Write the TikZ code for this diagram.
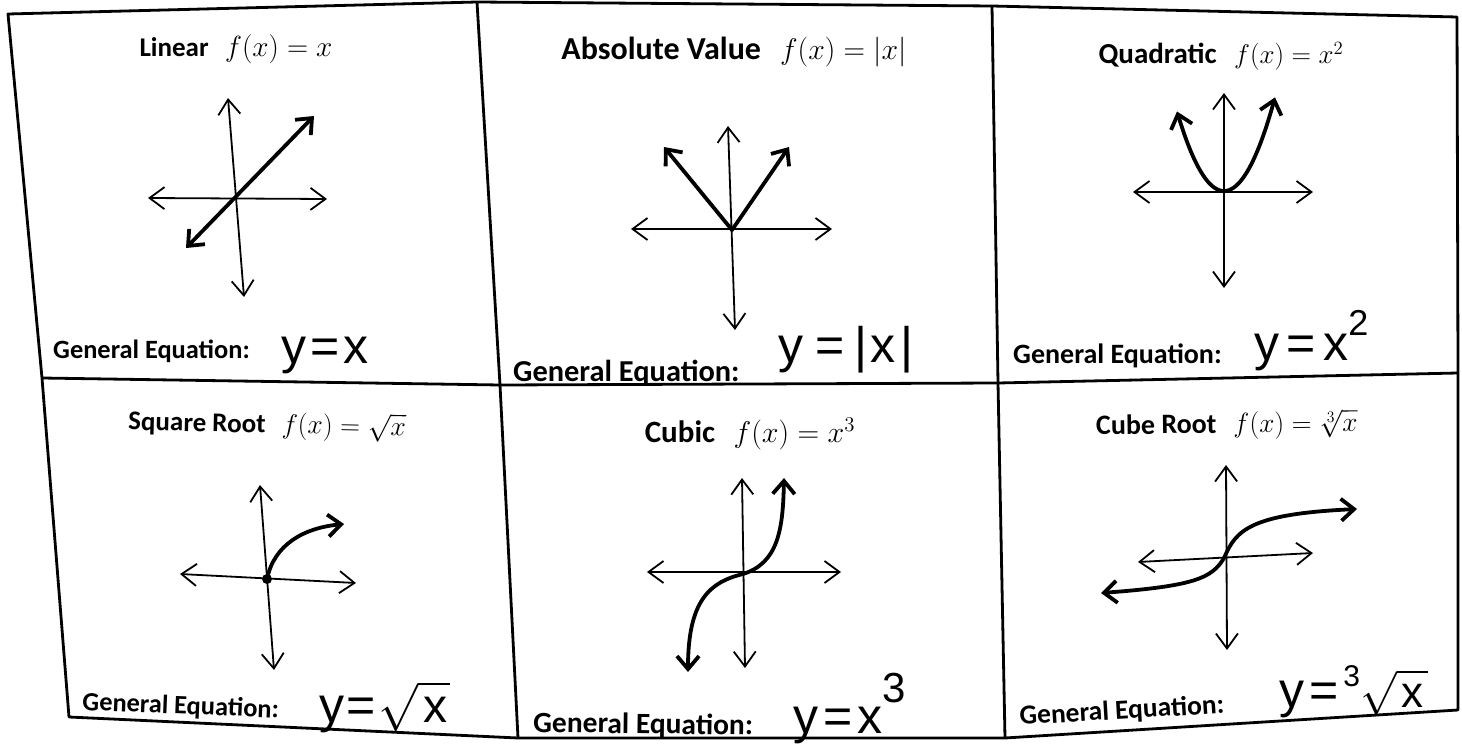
\documentclass[tikz,border=0pt]{standalone}
\usepackage{amsmath}
\usepackage{fontspec}
\setmainfont{Carlito}
\newfontfamily\hand{Liberation Sans}
\usetikzlibrary{arrows.meta}
\newcommand{\fs}[1]{\fontsize{#1}{#1}\selectfont}
% math drawn at 20.74pt and scaled to the wanted size
\newcommand{\bm}[2]{\scalebox{\fpeval{#1/20.74}}{\fs{20.74}$#2$}}
\begin{document}
\begin{tikzpicture}[x=1pt,y=-1pt,
  >={Straight Barb[length=15pt,width=22pt]},
  border/.style={line width=2.8pt,line join=round},
  axis/.style={line width=1.8pt,<->},
  curve/.style={line width=3.8pt,line cap=round,line join=round},
  bothtips/.style={arrows={Straight Barb[length=13pt,width=22pt]-Straight Barb[length=13pt,width=22pt]}},
  endtip/.style={arrows={-Straight Barb[length=13pt,width=22pt]}},
  title/.style={anchor=base,inner sep=0pt,font=\bfseries},
  geq/.style={anchor=base west,inner sep=0pt,font=\bfseries},
  handeq/.style={anchor=base west,inner sep=0pt,font=\hand\fontsize{50}{54}\selectfont},
  dotmark/.style={fill=black,circle,inner sep=0pt,minimum size=10pt}]
\useasboundingbox (0,0) rectangle (1462,754);
\fill[white] (0,0) rectangle (1462,754);
% ---------- borders ----------
\coordinate (t0) at (8,14);
\coordinate (t1) at (477,2);
\coordinate (t2) at (992,6);
\coordinate (t3) at (1457,17);
\coordinate (m0) at (42,378);
\coordinate (m1) at (500,385);
\coordinate (m2) at (998,383);
\coordinate (m3) at (1458,373);
\coordinate (b0) at (69,717);
\coordinate (b1) at (518,738);
\coordinate (b2) at (1005,738);
\coordinate (b3) at (1458,710);
\draw[border] (t0) -- (t1) -- (t2) -- (t3) -- (m3) -- (b3) -- (b2) -- (b1) -- (b0) -- (m0) -- cycle;
\draw[border] (m0) -- (m1) -- (m2) -- (m3);
\draw[border] (t1) -- (m1) -- (b1);
\draw[border] (t2) -- (m2) -- (b2);
% ---------- cell 1: linear ----------
\node[title] (ti1) at (236,57) {\fs{27}Linear\hspace{0.6em}\bm{29.2}{f(x)=x}};
\coordinate (a1t) at (228,98);  \coordinate (a1b) at (244,297);
\coordinate (a1l) at (148,198); \coordinate (a1r) at (327,199);
\draw[axis] (a1t) -- (a1b);
\draw[axis] (a1l) -- (a1r);
\coordinate (c1a) at (186,248); \coordinate (c1b) at (314,116);
\draw[curve,bothtips] (c1a) -- (c1b);
\node[geq] (g1) at (53,358) {\fs{26.4}General Equation:};
\node[handeq] (h1) at (281,363) {y\hspace{0.08em}=\hspace{0.08em}x};
% ---------- cell 2: absolute value ----------
\node[title] (ti2) at (734,60) {\fs{32}Absolute Value\hspace{0.6em}\bm{29.8}{f(x)=\left|x\right|}};
\coordinate (a2t) at (728,126); \coordinate (a2b) at (735,330);
\coordinate (a2l) at (631,229); \coordinate (a2r) at (832,229);
\draw[axis] (a2t) -- (a2b);
\draw[axis] (a2l) -- (a2r);
\coordinate (o2) at (732,230);
\coordinate (c2a) at (664,147); \coordinate (c2b) at (789,147);
\draw[curve,bothtips] (c2a) -- (o2) -- (c2b);
\node[geq] (g2) at (513,381) {\fs{30.4}General Equation:};
\node[handeq] (h2) at (778,362) {y\hspace{0.25em}=\hspace{0.2em}|\hspace{0.05em}x\hspace{0.1em}|};
% ---------- cell 3: quadratic ----------
\node[title] (ti3) at (1221,64) {\fs{29}Quadratic\hspace{0.6em}\bm{27}{f(x)=x^2}};
\coordinate (a3t) at (1224,93);  \coordinate (a3b) at (1224,288);
\coordinate (a3l) at (1133,192); \coordinate (a3r) at (1313,192);
\draw[axis] (a3t) -- (a3b);
\draw[axis] (a3l) -- (a3r);
\draw[curve,bothtips] plot[domain=-47:51,samples=50,smooth] ({1224+\x},{191-0.036*\x*\x});
\node[geq] (g3) at (1013,363) {\fs{28}General Equation:};
\node[handeq] (h3) at (1254,360) {y\hspace{0.15em}=\hspace{0.15em}x\raisebox{0.5em}{\fs{36}2}};
% ---------- cell 4: square root ----------
\node[title,rotate=-1.3] (ti4) at (267,433) {\fs{27}Square Root\hspace{0.6em}\bm{27.5}{f(x)=\sqrt{x}}};
\coordinate (a4t) at (260,485); \coordinate (a4b) at (274,670);
\coordinate (a4l) at (180,574); \coordinate (a4r) at (356,583);
\draw[axis] (a4t) -- (a4b);
\draw[axis] (a4l) -- (a4r);
\coordinate (o4) at (267,579);
\coordinate (c4e) at (344,524);
\draw[curve,endtip] (o4) .. controls (274,545) and (303,528) .. (c4e);
\node[dotmark] (d4) at (o4) {};
\node[geq,rotate=-2.3] (g4) at (82,710) {\fs{26.4}General Equation:};
\node[handeq] (h4) at (319,722) {y\hspace{0.05em}=\hspace{0.05em}\bm{48}{\sqrt{\hbox{\hand\hspace{0.1em}x\hspace{0.05em}}}}};
% ---------- cell 5: cubic ----------
\node[title] (ti5) at (750,442) {\fs{31}Cubic\hspace{0.6em}\bm{30}{f(x)=x^3}};
\coordinate (a5t) at (742,478); \coordinate (a5b) at (745,668);
\coordinate (a5l) at (647,572); \coordinate (a5r) at (841,572);
\draw[axis] (a5t) -- (a5b);
\draw[axis] (a5l) -- (a5r);
\coordinate (o5) at (743,574);
\coordinate (c5a) at (688,672); \coordinate (c5b) at (784,478);
\draw[curve,bothtips] (c5a) .. controls (688,600) and (710,582) .. (o5) .. controls (778,563) and (783,530) .. (c5b);
\node[geq,rotate=-0.8] (g5) at (533,732) {\fs{29.5}General Equation:};
\node[handeq] (h5) at (793,733) {y\hspace{0.1em}=\hspace{0.1em}x\raisebox{0.62em}{\fs{42}3}};
% ---------- cell 6: cube root ----------
\node[title,rotate=0.8] (ti6) at (1227,433) {\fs{28}Cube Root\hspace{0.6em}\bm{27.5}{f(x)=\sqrt[3]{x}}};
\coordinate (a6t) at (1226,465); \coordinate (a6b) at (1227,650);
\coordinate (a6l) at (1138,562); \coordinate (a6r) at (1313,553);
\draw[axis] (a6t) -- (a6b);
\draw[axis] (a6l) -- (a6r);
\coordinate (o6) at (1224,558);
\coordinate (c6a) at (1101,593); \coordinate (c6b) at (1357,509);
\draw[curve,bothtips] (c6a) .. controls (1195,586) and (1212,578) .. (o6) .. controls (1236,530) and (1250,514) .. (c6b);
\node[geq,rotate=3.4] (g6) at (1020,725) {\fs{27.5}General Equation:};
\node[handeq] (h6) at (1279,707) {y\hspace{0.1em}=\hspace{0.1em}\raisebox{0.42em}{\fs{30}3}\bm{44}{\sqrt{\hbox{\hand\hspace{0.1em}x\hspace{0.1em}}}}};
\end{tikzpicture}
\end{document}
